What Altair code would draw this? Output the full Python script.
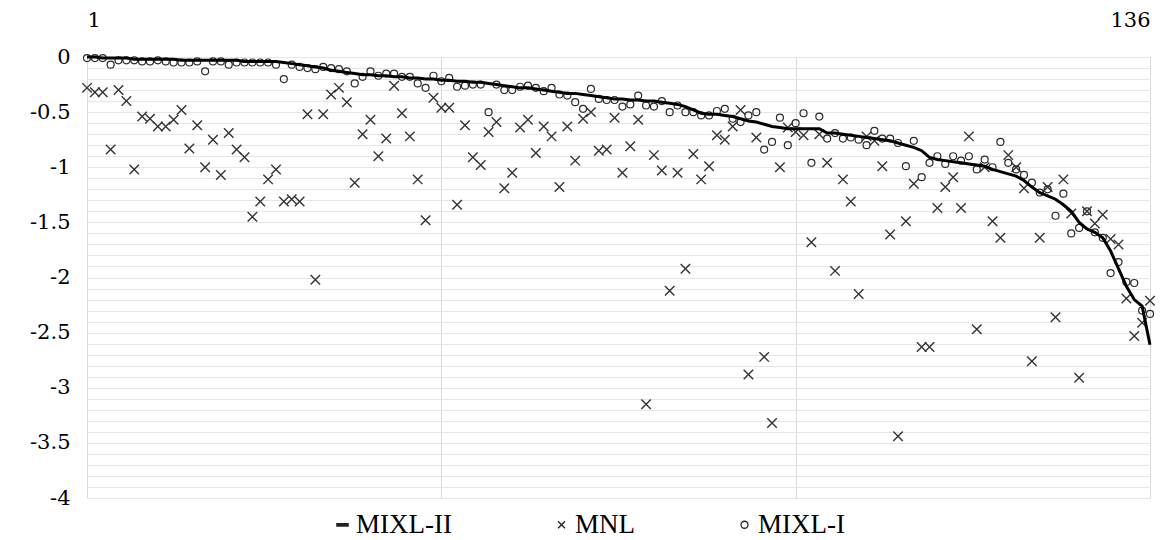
import altair as alt
import pandas as pd

idx = list(range(1, 137))

mixl2 = [
    0.00, -0.00, -0.01, -0.01, -0.01, -0.01, -0.02, -0.02, -0.02, -0.02,
    -0.02, -0.02, -0.03, -0.03, -0.03, -0.03, -0.03, -0.03, -0.03, -0.03,
    -0.04, -0.04, -0.04, -0.04, -0.04, -0.05, -0.06, -0.07, -0.08, -0.09,
    -0.10, -0.12, -0.13, -0.14, -0.15, -0.16, -0.16, -0.17, -0.17, -0.18,
    -0.18, -0.19, -0.19, -0.20, -0.20, -0.21, -0.21, -0.22, -0.22, -0.23,
    -0.23, -0.24, -0.25, -0.26, -0.27, -0.28, -0.28, -0.29, -0.30, -0.31,
    -0.32, -0.33, -0.33, -0.34, -0.35, -0.36, -0.37, -0.38, -0.38, -0.39,
    -0.39, -0.40, -0.40, -0.41, -0.42, -0.43, -0.45, -0.48, -0.51, -0.52,
    -0.52, -0.53, -0.54, -0.56, -0.58, -0.59, -0.61, -0.63, -0.64, -0.65,
    -0.65, -0.65, -0.65, -0.65, -0.69, -0.69, -0.70, -0.71, -0.72, -0.73,
    -0.74, -0.75, -0.76, -0.78, -0.80, -0.82, -0.85, -0.91, -0.93, -0.94,
    -0.95, -0.96, -0.97, -0.98, -0.99, -1.02, -1.04, -1.06, -1.08, -1.12,
    -1.18, -1.23, -1.26, -1.29, -1.34, -1.40, -1.50, -1.56, -1.59, -1.64,
    -1.76, -1.92, -2.08, -2.20, -2.26, -2.61,
]

mnl = [
    -0.28, -0.32, -0.32, -0.84, -0.30, -0.40, -1.02, -0.54, -0.56, -0.63,
    -0.63, -0.57, -0.48, -0.83, -0.62, -1.00, -0.75, -1.07, -0.69, -0.84,
    -0.91, -1.45, -1.31, -1.11, -1.02, -1.31, -1.29, -1.31, -0.52, -2.02,
    -0.52, -0.34, -0.28, -0.41, -1.14, -0.70, -0.57, -0.90, -0.74, -0.26,
    -0.51, -0.72, -1.11, -1.48, -0.37, -0.46, -0.46, -1.34, -0.62, -0.91,
    -0.98, -0.68, -0.59, -1.19, -1.05, -0.64, -0.57, -0.87, -0.63, -0.72,
    -1.18, -0.63, -0.94, -0.56, -0.50, -0.85, -0.84, -0.55, -1.05, -0.81,
    -0.57, -3.15, -0.89, -1.03, -2.12, -1.05, -1.92, -0.88, -1.11, -0.99,
    -0.71, -0.75, -0.63, -0.48, -2.88, -0.73, -2.72, -3.32, -1.00, -0.64,
    -0.68, -0.71, -1.68, -0.70, -0.96, -1.94, -1.11, -1.31, -2.15, -0.72,
    -0.76, -0.99, -1.61, -3.44, -1.49, -1.15, -2.63, -2.63, -1.37, -1.18,
    -1.09, -1.37, -0.72, -2.47, -1.00, -1.49, -1.64, -0.89, -1.00, -1.19,
    -2.76, -1.64, -1.18, -2.36, -1.11, -1.42, -2.91, -1.40, -1.51, -1.43,
    -1.65, -1.70, -2.19, -2.53, -2.41, -2.21,
]

mixl1 = [
    -0.01, -0.01, -0.01, -0.07, -0.03, -0.03, -0.03, -0.04, -0.04, -0.03,
    -0.04, -0.05, -0.05, -0.05, -0.04, -0.13, -0.04, -0.04, -0.07, -0.05,
    -0.05, -0.05, -0.05, -0.05, -0.07, -0.20, -0.07, -0.09, -0.10, -0.11,
    -0.09, -0.10, -0.11, -0.13, -0.24, -0.18, -0.13, -0.17, -0.15, -0.15,
    -0.18, -0.18, -0.24, -0.28, -0.17, -0.22, -0.19, -0.27, -0.26, -0.25,
    -0.25, -0.50, -0.25, -0.30, -0.30, -0.27, -0.26, -0.28, -0.31, -0.28,
    -0.34, -0.35, -0.41, -0.47, -0.29, -0.38, -0.39, -0.39, -0.45, -0.43,
    -0.35, -0.44, -0.45, -0.40, -0.50, -0.44, -0.50, -0.50, -0.53, -0.53,
    -0.49, -0.47, -0.56, -0.59, -0.53, -0.50, -0.84, -0.77, -0.55, -0.80,
    -0.60, -0.51, -0.96, -0.54, -0.74, -0.69, -0.74, -0.73, -0.75, -0.80,
    -0.67, -0.74, -0.74, -0.78, -0.99, -0.76, -1.09, -0.96, -0.90, -0.97,
    -0.90, -0.94, -0.90, -1.02, -0.93, -1.00, -0.77, -0.96, -1.02, -1.07,
    -1.14, -1.23, -1.20, -1.44, -1.24, -1.60, -1.55, -1.40, -1.59, -1.64,
    -1.96, -1.86, -2.04, -2.05, -2.30, -2.33,
]

series_order = ["MIXL-II", "MNL", "MIXL-I"]
x_ticks = [1, 46, 91, 136]
y_ticks = [round(-4 + 0.1 * k, 1) for k in range(41)]

df = pd.DataFrame({"idx": idx, "MIXL-II": mixl2, "MNL": mnl, "MIXL-I": mixl1})
long = df.melt("idx", var_name="series", value_name="value")

dash_path = "M-1.8,-0.35L1.8,-0.35M-1.8,0L1.8,0M-1.8,0.35L1.8,0.35"
cross_path = "M-1,-1L1,1M1,-1L-1,1"

shape_scale = alt.Scale(domain=series_order, range=[dash_path, cross_path, "circle"])

LEGEND_FONT = "Times New Roman"
AXIS_FONT = "DejaVu Serif"

x_enc = alt.X(
    "idx:Q",
    scale=alt.Scale(domain=[1, 136], nice=False, zero=False),
    axis=alt.Axis(
        orient="top", values=x_ticks, title=None,
        labelExpr="datum.value == 1 || datum.value == 136 ? datum.label : ''",
        grid=True, gridColor="#d9d9d9", gridWidth=1,
        domain=False, ticks=False, labelFont=AXIS_FONT, labelFontSize=21,
        labelColor="#000", labelPadding=27, labelOverlap=False,
    ),
)
y_enc = alt.Y(
    "value:Q",
    scale=alt.Scale(domain=[-4, 0], nice=False, zero=False),
    axis=alt.Axis(
        values=y_ticks, title=None,
        labelExpr="abs(datum.value*2 - round(datum.value*2)) < 0.001 ? (datum.value == 0 ? '0' : '-' + format(-datum.value, '')) : ''",
        grid=True, gridColor="#e6e6e6", gridWidth=1,
        domain=False, ticks=False, labelFont=AXIS_FONT, labelFontSize=21,
        labelColor="#000", labelPadding=17, labelOverlap=False,
    ),
)

legend = alt.Legend(
    title=None, orient="none", legendX=242, legendY=454, direction="horizontal",
    labelFont=LEGEND_FONT, labelFontSize=27, labelColor="#000",
    symbolSize=49, symbolStrokeWidth=1.3, symbolStrokeColor="#222",
    symbolFillColor="transparent", columnPadding=96, labelOffset=0, padding=0,
)

base = alt.Chart(long)

mnl_layer = base.transform_filter(alt.datum.series == "MNL").mark_point(
    filled=False, size=90, strokeWidth=1.4, color="#333", opacity=1
).encode(x=x_enc, y=y_enc, shape=alt.Shape("series:N", scale=shape_scale, legend=legend))

mixl1_layer = base.transform_filter(alt.datum.series == "MIXL-I").mark_point(
    filled=False, size=49, strokeWidth=1.2, color="#2a2a2a", opacity=1
).encode(x=x_enc, y=y_enc, shape=alt.Shape("series:N", scale=shape_scale, legend=legend))

line_layer = base.transform_filter(alt.datum.series == "MIXL-II").mark_line(
    color="#000", strokeWidth=3
).encode(x=x_enc, y=y_enc)

chart = (
    alt.layer(mnl_layer, mixl1_layer, line_layer)
    .properties(
        width=1063, height=441,
        autosize=alt.AutoSizeParams(type="none"),
        padding={"left": 87, "top": 57, "right": 25, "bottom": 42},
        background="white",
    )
    .configure_view(stroke=None)
    .configure_legend(labelFont=LEGEND_FONT, labelFontSize=27, labelColor="#000")
)

chart.save("out.html", embed_options={"renderer": "svg", "actions": False})
